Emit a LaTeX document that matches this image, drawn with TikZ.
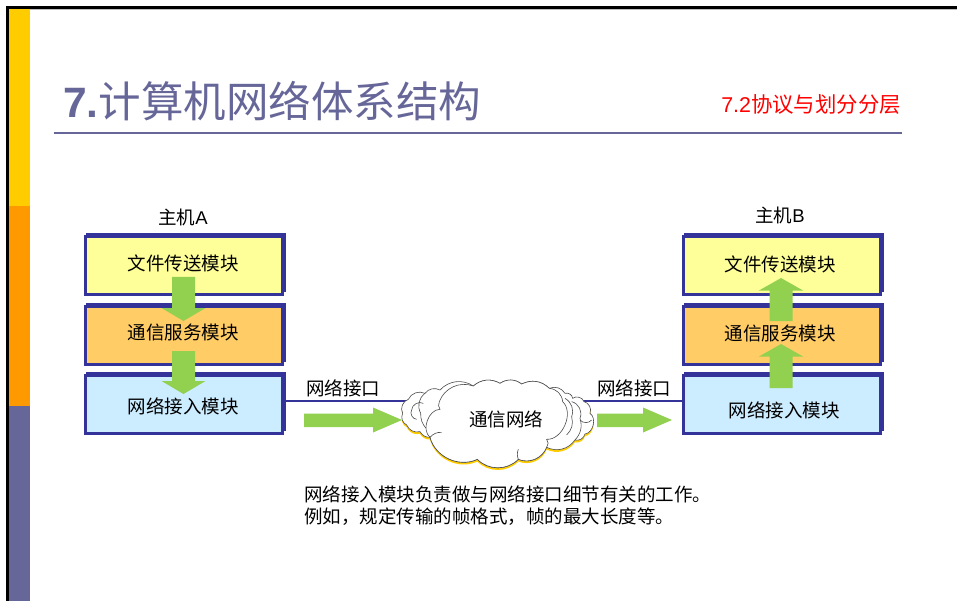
\documentclass[tikz,border=0pt]{standalone}
\usepackage{fontspec}
\setmainfont{Noto Sans CJK SC}
\newfontfamily\latinbold[BoldFont={Liberation Sans Bold}]{Liberation Sans}
\definecolor{deckpurple}{HTML}{666699}
\definecolor{deckyellow}{HTML}{FFCC00}
\definecolor{deckorange}{HTML}{FF9900}
\definecolor{edgeblue}{HTML}{333399}
\definecolor{fillfile}{HTML}{FFFF99}
\definecolor{fillcomm}{HTML}{FFCC66}
\definecolor{fillnet}{HTML}{CCECFF}
\definecolor{arrowgreen}{HTML}{92D050}
\tikzset{
  x=1pt,y=-1pt,
  modbox/.style={draw=edgeblue,line width=3pt,minimum width=197pt,minimum height=58pt,inner sep=0pt,outer sep=0pt},
  boxshadow/.style={fill=edgeblue},
  lbl/.style={font=\fontsize{18.5}{20}\selectfont,inner sep=0pt,black},
  blockarrow/.style={fill=arrowgreen},
  netline/.style={draw=edgeblue,line width=2.6pt},
  cloudshape/.style={fill=white,draw=black!70,line width=0.6pt},
  cloudline/.style={draw=black!70,line width=0.6pt},
  bl/.style={bend left=#1}
}
\newcommand{\downarrowshape}[3]{% x centre, top, tip
  \path[blockarrow] (#1-11.5,#2) -- (#1+11.5,#2) -- (#1+11.5,#3-13) -- (#1+22,#3-13) -- (#1,#3) -- (#1-22,#3-13) -- (#1-11.5,#3-13) -- cycle;}
\newcommand{\uparrowshape}[3]{% x centre, bottom, tip
  \path[blockarrow] (#1-11.5,#2) -- (#1+11.5,#2) -- (#1+11.5,#3+12.5) -- (#1+22,#3+12.5) -- (#1,#3) -- (#1-22,#3+12.5) -- (#1-11.5,#3+12.5) -- cycle;}
\newcommand{\rightarrowshape}[3]{% x start, head base, tip
  \path[blockarrow] (#1,413.5) -- (#2,413.5) -- (#2,407.5) -- (#3,420) -- (#2,432.5) -- (#2,427) -- (#1,427) -- cycle;}
\begin{document}
\begin{tikzpicture}
\path[use as bounding box,fill=white] (0,0) rectangle (957,601);
% slide frame
\fill[black] (6,6) rectangle (957,9);
\fill[black] (6,6) rectangle (9,601);
\fill[black!25] (9,9) rectangle (957,10);
\fill[deckyellow] (9,9.5) rectangle (30,206);
\fill[deckorange] (9,206) rectangle (30,406);
\fill[deckpurple] (9,406) rectangle (30,601);
% title
\node[anchor=base west,inner sep=0pt,text=deckpurple,font=\fontsize{42.5}{46}\selectfont] (title) at (63,118) {{\latinbold\bfseries 7.}计算机网络体系结构};
\node[anchor=base east,inner sep=0pt,text=red,font=\fontsize{21.4}{24}\selectfont] (subtitle) at (901,113) {{\latinbold 7.2}协议与划分分层};
\coordinate (ruleL) at (54,133); \coordinate (ruleR) at (902,133);
\draw[deckpurple,line width=1.6pt] (ruleL) -- (ruleR);
% shadows
\foreach \xa/\ya in {86/233,86/303,86/372,684/233,684/303,684/372}
  \fill[boxshadow] (\xa,\ya) rectangle (\xa+200,\ya+59);
% boxes
\node[modbox,fill=fillfile] (a1) at (184,265.5) {};
\node[modbox,fill=fillcomm] (a2) at (184,335.5) {};
\node[modbox,fill=fillnet]  (a3) at (184,404.5) {};
\node[modbox,fill=fillfile] (b1) at (781.5,265.5) {};
\node[modbox,fill=fillcomm] (b2) at (781.5,335.5) {};
\node[modbox,fill=fillnet]  (b3) at (781.5,404.5) {};
% network lines
\coordinate (cloudL) at (425,401); \coordinate (cloudR) at (570,401);
\draw[netline] (a3.east |- cloudL) -- (cloudL);
\draw[netline] (cloudR) -- (b3.west |- cloudR);
% cloud
\begin{scope}[shift={(390,360)},x=0.3333pt,y=-0.3333pt]
  \def\cloudback{(38,160) to[bl=50] (55,118) to[bl=45] (105,100) to[bl=40] (150,90) to[bl=40] (250,78) to[bl=35] (330,70) to[bl=35] (395,72) to[bl=35] (478,85) to[bl=40] (525,100) to[bl=50] (548,115) to[bl=55] (582,125) to[bl=50] (600,160) to[bl=70] (585,222) to[bl=45] (555,240) to[bl=40] (470,262) to[bl=45] (385,298) to[bl=45] (262,298) to[bl=50] (120,232) to[bl=30] (90,215) to[bl=40] (50,195) to[bl=45] (38,160) -- cycle}
  \begin{scope}[yshift=-2.2pt]
    \fill[deckyellow] \cloudback;
  \end{scope}
  \path[cloudshape] \cloudback;
  \draw[cloudline] (100,130) to[bend right=60] (65,150) to[bend right=60] (80,178);
  \draw[cloudline] (105,100) to[bend right=40] (92,160) to[bend right=20] (108,205);
  \draw[cloudline] (525,115) to[bend left=40] (545,170) to[bend left=30] (530,225);
  \draw[cloudline] (545,125) to[bend left=50] (570,175) to[bend left=30] (555,240);
  \draw[cloudline] (570,180) to[bend right=50] (605,180);
  \path[cloudshape] (150,148) to[bl=30] (148,125) to[bl=45] (250,78) to[bl=35] (330,70) to[bl=35] (395,72) to[bl=35] (478,85) to[bl=40] (518,125) to[bl=70] (470,238) to[bl=40] (470,262) to[bl=45] (385,298) to[bl=45] (262,298) to[bl=50] (120,232) to[bl=70] (150,148) -- cycle;
  \draw[cloudline] (120,232) to[bend left=25] (155,217);
  \draw[cloudline] (385,298) to[bend left=20] (385,268);
\end{scope}
% block arrows
\downarrowshape{183.5}{277}{321}
\downarrowshape{183.5}{351}{394}
\uparrowshape{781}{321}{278}
\uparrowshape{781}{388}{344}
\rightarrowshape{304}{373}{402}
\rightarrowshape{597}{643}{672}
% labels
\node[lbl] (hosta) at (183,217.5) {主机{\latinbold A}};
\node[lbl] (hostb) at (780,215.5) {主机{\latinbold B}};
\node[lbl] (ta1) at (183,263.5) {文件传送模块};
\node[lbl] (ta2) at (183,332.5) {通信服务模块};
\node[lbl] (ta3) at (183,406.5) {网络接入模块};
\node[lbl] (tb1) at (780,264.5) {文件传送模块};
\node[lbl] (tb2) at (780,333.5) {通信服务模块};
\node[lbl] (tb3) at (784,410.5) {网络接入模块};
\node[lbl] (ifa) at (343,388.5) {网络接口};
\node[lbl] (ifb) at (634,388.5) {网络接口};
\node[lbl] (net) at (506,419.5) {通信网络};
\node[lbl,anchor=base west] (note1) at (304,501) {网络接入模块负责做与网络接口细节有关的工作。};
\node[lbl,anchor=base west] (note2) at (304,523) {例如，规定传输的帧格式，帧的最大长度等。};
\end{tikzpicture}
\end{document}
